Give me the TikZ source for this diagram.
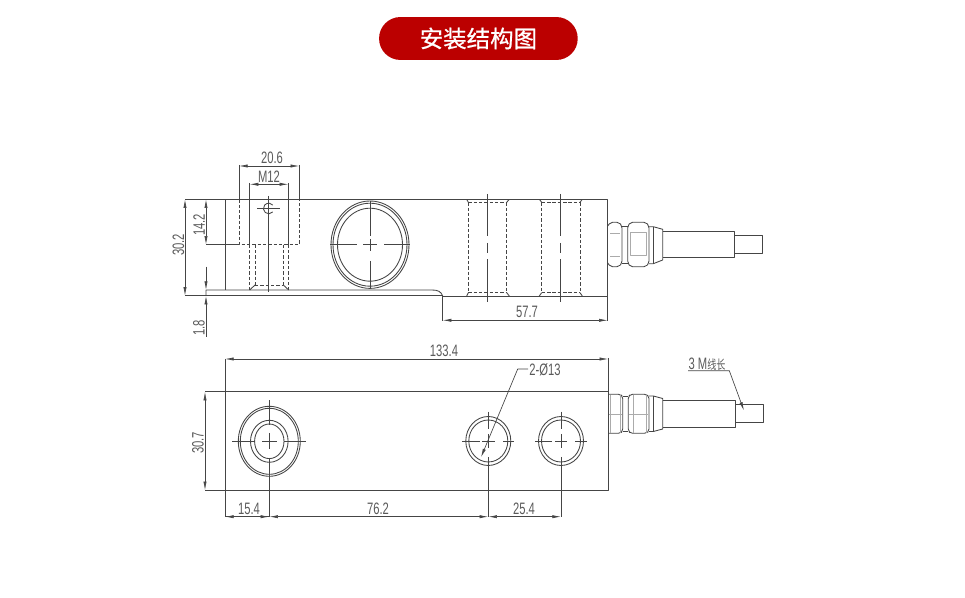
\documentclass[tikz,border=0pt]{standalone}
\usepackage{fontspec}
\usetikzlibrary{arrows.meta}
\newfontfamily\titlefont[FakeBold=0.7]{Noto Sans CJK SC}
\newfontfamily\dimfont[FakeStretch=0.68]{Liberation Sans}
\newfontfamily\dimcjk[FakeStretch=0.72]{Noto Sans CJK SC}
\definecolor{titlered}{HTML}{BB0000}
\definecolor{inkline}{HTML}{454545}
\definecolor{inktext}{HTML}{5A5A5A}

\begin{document}
\begin{tikzpicture}[
    x=0.75pt,y=-0.75pt,
    >={Latex[length=6.5pt,width=2.4pt]},
    line join=round,
    part/.style={draw=inkline,line width=0.65pt},
    hidden/.style={draw=inkline,line width=0.55pt,dash pattern=on 2.6pt off 1.4pt},
    centre/.style={draw=inkline,line width=0.5pt},
    dimline/.style={draw=inkline,line width=0.5pt},
    facet/.style={draw=inkline!45,line width=0.5pt},
    dimtext/.style={inner sep=0pt,text=inktext,font=\dimfont\fontsize{12.4}{13}\selectfont},
    badge/.style={fill=titlered,rounded corners=16pt,inner sep=0pt,minimum width=149pt,
        minimum height=32.2pt,text=white,font=\titlefont\fontsize{17.6}{20}\selectfont}
  ]
    \useasboundingbox (0,0) rectangle (965,598);

    \node (title) [badge] at (478.4,38.5) {安装结构图};

    % side view
    \coordinate (bore)   at (370,244.7);
    \coordinate (thread) at (268.7,208.5);

    \draw [part] (185,199.3) -- (607.7,199.3) -- (607.7,296) -- (442.7,296);
    \draw [part] (185,295.8) -- (442.7,295.8);
    \draw [part] (206,295.8) -- (206,290) -- (432,290) .. controls (438,290) and (441,291.5) .. (442.7,296);
    \draw [part] (225,199.3) -- (225,290);
    \draw [part] (206,244.7) -- (239,244.7);
    \draw [hidden] (239,199.3) -- (239,244.7) -- (299.3,244.7) -- (299.3,199.3);
    \draw [hidden] (249.7,244.7) -- (249.7,290) (255,244.7) -- (255,285)
        (283.3,244.7) -- (283.3,285) (288.7,244.7) -- (288.7,290)
        (255,285) -- (283.3,285);
    \draw [part] (249.7,290) -- (255,285) (288.7,290) -- (283.3,285);

    \draw [part] (bore) ellipse [x radius=39,y radius=43.7];
    \draw [part] (bore) ellipse [x radius=37,y radius=41.5];
    \draw [part] (bore) ellipse [x radius=32.5,y radius=36.5];
    \draw [centre] (330,244.7) -- (357,244.7) (363,244.7) -- (377,244.7) (384,244.7) -- (410,244.7);
    \draw [centre] (370,201) -- (370,236) (370,239) -- (370,251) (370,261) -- (370,288.5);

    \draw [part] ([shift={(40:5.3)}]thread) arc [start angle=40,end angle=320,radius=5.3];
    \draw [centre] (257.3,208.5) -- (280.3,208.5) (268.7,196) -- (268.7,292);

    % through holes seen from the side
    \draw [hidden] (468.3,202.3) -- (506.7,202.3) (468.3,292.7) -- (506.7,292.7)
        (468.3,202.3) -- (468.3,292.7) (506.7,202.3) -- (506.7,292.7);
    \draw [hidden] (541.7,202.3) -- (580,202.3) (541.7,292.7) -- (580,292.7)
        (541.7,202.3) -- (541.7,292.7) (580,202.3) -- (580,292.7);
    \draw [part] (466.7,199.3) -- (468.3,202.3) (509.3,199.3) -- (506.7,202.3)
        (466.7,296) -- (468.3,292.7) (509.3,296) -- (506.7,292.7)
        (539.3,199.3) -- (541.7,202.3) (582.3,199.3) -- (580,202.3)
        (539.3,296) -- (541.7,292.7) (582.3,296) -- (580,292.7);
    \draw [centre] (487.7,194) -- (487.7,236) (487.7,243) -- (487.7,253) (487.7,259.3) -- (487.7,301.7);
    \draw [centre] (560.7,194) -- (560.7,236) (560.7,243) -- (560.7,253) (560.7,259.3) -- (560.7,301.7);

    % cable gland, side view
    \begin{scope}[rounded corners=1.5pt]
        \draw [part] (607.7,226) -- (610.5,222.3) -- (619,222.3) -- (622,226) -- (622,263) -- (619,266.7) -- (610.5,266.7) -- (607.7,263);
        \draw [part] (627.7,226) -- (630.5,222.3) -- (646,222.3) -- (649,226) -- (649,263) -- (646,266.7) -- (630.5,266.7) -- (627.7,263) -- cycle;
    \end{scope}
    \draw [part] (622,226) -- (627.7,226) (622,263) -- (627.7,263);
    \draw [facet] (610,233) -- (620,233) (610,256) -- (620,256);
    \draw [facet] (630.5,232) -- (646.5,232) -- (646.5,255.7) -- (630.5,255.7) -- cycle;
    \draw [part] (649,226.7) -- (653.3,226.7) -- (662.7,229.3) -- (662.7,260) -- (653.3,263.7) -- (649,263.7);
    \draw [part] (653.3,226.7) -- (653.3,263.7);
    \draw [part] (662.7,231.7) -- (734,231.7) -- (734,257.3) -- (662.7,257.3);
    \draw [part] (734,235.3) -- (762.7,235.3) -- (762.7,253.7) -- (734,253.7);

    % end view
    \coordinate (stud)  at (269.3,441.3);
    \coordinate (holeA) at (488.3,441);
    \coordinate (holeB) at (561,441);

    \draw [part] (205,391.7) -- (608.3,391.7) -- (608.3,490.3) -- (225,490.3);
    \draw [part] (205,490.3) -- (225,490.3);
    \draw [part] (225,359) -- (225,516.7);
    \draw [part,line width=1pt] (331.7,391.7) -- (410,391.7) (331.7,490.3) -- (410,490.3)
        (473,391.7) -- (588,391.7);

    \draw [part] (stud) ellipse [x radius=31,y radius=35];
    \draw [part] (stud) ellipse [x radius=29,y radius=33];
    \draw [part] (stud) ellipse [x radius=18.8,y radius=21];
    \draw [part] (stud) ellipse [x radius=14.7,y radius=17.3];
    \draw [centre] (232.3,441.3) -- (255,441.3) (262,441.3) -- (277,441.3) (284,441.3) -- (306,441.3);
    \draw [centre] (269.3,400.3) -- (269.3,425) (269.3,433) -- (269.3,449) (269.3,458) -- (269.3,516.7);

    \draw [part] (holeA) ellipse [x radius=22.5,y radius=24.5];
    \draw [part] (holeA) ellipse [x radius=19.5,y radius=21];
    \draw [part] (holeB) ellipse [x radius=22.5,y radius=24.5];
    \draw [part] (holeB) ellipse [x radius=19.5,y radius=21];
    \draw [centre] (462.3,441) -- (480,441) (482,441) -- (495,441) (503,441) -- (514.3,441);
    \draw [centre] (535,441) -- (552,441) (555,441) -- (567,441) (575,441) -- (587,441);
    \draw [centre] (488.3,411.7) -- (488.3,429) (488.3,434) -- (488.3,448) (488.3,457) -- (488.3,516.7);
    \draw [centre] (561,411.7) -- (561,429) (561,434) -- (561,448) (561,457) -- (561,516.7);

    % cable gland, end view
    \begin{scope}[rounded corners=1.5pt]
        \draw [part] (608.3,394.3) -- (620.5,394.3) -- (622.7,396.5) -- (622.7,431) -- (620.5,433.3) -- (608.3,433.3);
        \draw [part] (628.3,396.5) -- (630.5,394.3) -- (646.5,394.3) -- (649,396.5) -- (649,431) -- (646.5,433.3) -- (630.5,433.3) -- (628.3,431) -- cycle;
    \end{scope}
    \draw [part] (622.7,396) -- (628.3,396) (622.7,431.5) -- (628.3,431.5);
    \draw [facet] (610,395) -- (610,433) (620.7,395) -- (620.7,433) (633,395) -- (633,433) (646.5,395) -- (646.5,433);
    \draw [facet] (609,414) -- (622,414) (629,414) -- (648,414);
    \draw [part] (649,396) -- (653.3,396) -- (662.7,398.5) -- (662.7,429) -- (653.3,431.5) -- (649,431.5);
    \draw [part] (653.3,396) -- (653.3,431.5);
    \draw [part] (662.7,400.7) -- (735,400.7) -- (735,427.3) -- (662.7,427.3);
    \draw [part] (735,404.3) -- (763.3,404.3) -- (763.3,422.7) -- (735,422.7);

    % dimensions
    \draw [dimline] (239,165) -- (239,199.3) (299.3,165) -- (299.3,199.3);
    \draw [dimline,<->] (239,166) -- (299.3,166);
    \draw [dimline] (249.7,183) -- (249.7,244.7) (288.3,183) -- (288.3,244.7);
    \draw [dimline,<->] (249.7,184.3) -- (288.3,184.3);
    \draw [dimline,<->] (185,199.3) -- (185,295.8);
    \draw [dimline,<->] (206,199.3) -- (206,244.7);
    \draw [dimline,->] (206,266.7) -- (206,290);
    \draw [dimline,->] (206,336.7) -- (206,295.8);
    \draw [dimline] (442.7,296) -- (442.7,321) (607.7,296) -- (607.7,321);
    \draw [dimline,<->] (442.7,320.3) -- (607.7,320.3);
    \draw [dimline,<->] (225,359) -- (608.3,359);
    \draw [dimline] (608.3,358) -- (608.3,391.7);
    \draw [dimline,<->] (205,391.7) -- (205,490.3);
    \draw [dimline,<-] (225,516.7) -- (235,516.7);
    \draw [dimline] (225,516.7) -- (269.3,516.7);
    \draw [dimline,->] (240,516.7) -- (269.3,516.7);
    \draw [dimline,<->] (269.3,516.7) -- (488.3,516.7);
    \draw [dimline,<->] (488.3,516.7) -- (561,516.7);
    \draw [dimline,->] (528,369) -- (517.7,369) -- (481,457.3);
    \draw [dimline,->] (688,370.7) -- (729.3,370.7) -- (744,410.7);

    \node (wHead)  [dimtext] at (272,158) {20.6};
    \node (wBolt)  [dimtext] at (269,176.5) {M12};
    \node (hBody)  [dimtext,rotate=90] at (178.5,245) {30.2};
    \node (hBolt)  [dimtext,rotate=90] at (199,225) {14.2};
    \node (hPlate) [dimtext,rotate=90] at (199,328) {1.8};
    \node (wHole)  [dimtext] at (527,312) {57.7};
    \node (wAll)   [dimtext] at (444,351) {133.4};
    \node (hEnd)   [dimtext,rotate=90] at (198,443) {30.7};
    \node (wStud)  [dimtext] at (249,509) {15.4};
    \node (wPitch) [dimtext] at (378,509) {76.2};
    \node (wHoles) [dimtext] at (524,509) {25.4};
    \node (dHole)  [dimtext] at (545,369.5) {2-Ø13};
    \node (lCable) [dimtext] at (707,364) {3 M{\dimcjk\fontsize{9.5}{10}\selectfont 线长}};
\end{tikzpicture}
\end{document}
